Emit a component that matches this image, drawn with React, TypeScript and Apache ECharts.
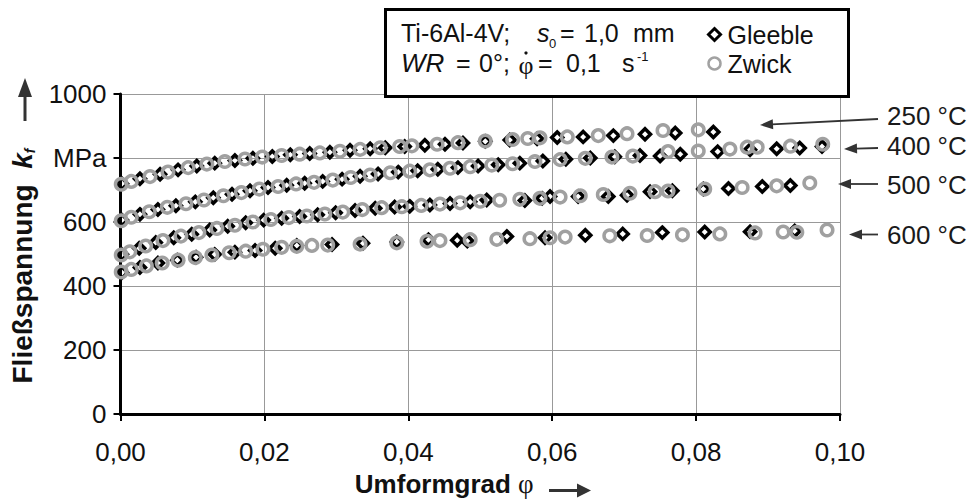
import React, { useEffect, useRef } from 'react';
import * as echarts from 'echarts';

const FONT = '"Liberation Sans", Arial, Helvetica, sans-serif';
const SERIF = '"Liberation Serif", "DejaVu Serif", serif';
const INK = '#111111';

// Umformgrad φ (x) and Fließspannung kf in MPa (y)
const gleeble250: [number, number][] = [
  [0.0002, 720], [0.0027, 735], [0.0055, 749], [0.008, 763], [0.0106, 775], [0.0131, 784], [0.0159, 792],
  [0.0184, 799], [0.0211, 805], [0.0236, 810], [0.0263, 814], [0.0291, 818], [0.0319, 824], [0.0347, 829],
  [0.0368, 832], [0.0395, 836], [0.0423, 840], [0.0451, 843], [0.0476, 847], [0.0507, 852], [0.0541, 856],
  [0.0579, 860], [0.0607, 864], [0.0643, 866], [0.0685, 870], [0.0729, 874], [0.0771, 878], [0.0824, 881],
];
const zwick250: [number, number][] = [
  [0.0001, 718], [0.0015, 727], [0.0041, 742], [0.0066, 756], [0.0094, 770], [0.012, 781], [0.0145, 789],
  [0.0173, 797], [0.0197, 803], [0.0224, 808], [0.0249, 812], [0.0277, 816], [0.0305, 821], [0.0333, 827],
  [0.0361, 832], [0.0388, 836], [0.0405, 838], [0.044, 843], [0.0469, 848], [0.0507, 853], [0.0545, 858],
  [0.0566, 861], [0.0583, 863], [0.0621, 866], [0.0664, 870], [0.0704, 876], [0.0754, 886], [0.0803, 888],
];
const gleeble400: [number, number][] = [
  [0.0002, 606], [0.0027, 624], [0.0052, 639], [0.0077, 651], [0.0104, 663], [0.0129, 676], [0.0155, 687],
  [0.018, 698], [0.0205, 708], [0.0231, 715], [0.0256, 721], [0.0281, 727], [0.0308, 734], [0.0333, 743],
  [0.0358, 750], [0.0386, 756], [0.0413, 760], [0.0441, 765], [0.0469, 770], [0.0497, 775], [0.0525, 779],
  [0.0555, 784], [0.0587, 791], [0.0619, 796], [0.0653, 800], [0.0687, 804], [0.0722, 808], [0.075, 806],
  [0.0778, 812], [0.083, 820], [0.0875, 826], [0.0912, 829], [0.0944, 831], [0.0975, 836],
];
const zwick400: [number, number][] = [
  [0.0001, 604], [0.0015, 615], [0.004, 632], [0.0065, 646], [0.0091, 657], [0.0116, 669], [0.0143, 682],
  [0.0168, 692], [0.0193, 703], [0.0219, 711], [0.0244, 719], [0.0269, 724], [0.0295, 731], [0.032, 739],
  [0.0347, 747], [0.0375, 754], [0.0402, 759], [0.043, 763], [0.0458, 768], [0.0486, 773], [0.0516, 778],
  [0.0545, 782], [0.0576, 789], [0.0611, 795], [0.0646, 799], [0.0683, 803], [0.0712, 806], [0.0761, 820],
  [0.0803, 822], [0.0847, 828], [0.0871, 834], [0.0885, 834], [0.0931, 837], [0.0976, 843],
];
const gleeble500: [number, number][] = [
  [0.0002, 499], [0.0026, 518], [0.0049, 536], [0.0074, 551], [0.0099, 562], [0.0124, 575], [0.0149, 587],
  [0.0174, 598], [0.0199, 606], [0.0224, 612], [0.0249, 617], [0.0274, 623], [0.0299, 629], [0.0326, 636],
  [0.0354, 643], [0.0381, 647], [0.0402, 649], [0.043, 653], [0.0458, 658], [0.0486, 663], [0.0509, 669],
  [0.0562, 667], [0.0586, 674], [0.0597, 680], [0.0636, 680], [0.0678, 680], [0.0704, 684], [0.0736, 695],
  [0.0767, 698], [0.081, 703], [0.0845, 705], [0.0892, 711], [0.0931, 714],
];
const zwick500: [number, number][] = [
  [0.0001, 497], [0.0013, 507], [0.0035, 525], [0.0059, 542], [0.0084, 556], [0.0109, 567], [0.0134, 580],
  [0.0159, 590], [0.0184, 600], [0.0209, 608], [0.0234, 614], [0.0259, 619], [0.0284, 625], [0.0309, 631],
  [0.0336, 639], [0.0363, 645], [0.0391, 648], [0.0418, 652], [0.0444, 656], [0.0472, 660], [0.05, 665],
  [0.0527, 668], [0.0555, 671], [0.0583, 674], [0.0611, 678], [0.0639, 682], [0.0671, 686], [0.0708, 690],
  [0.0743, 695], [0.0761, 697], [0.0812, 703], [0.0864, 708], [0.0912, 713], [0.0958, 722],
];
const gleeble600: [number, number][] = [
  [0.0002, 442], [0.0027, 458], [0.0052, 472], [0.0079, 481], [0.0105, 490], [0.0131, 499], [0.0159, 506],
  [0.0187, 511], [0.0215, 518], [0.0245, 527], [0.0294, 530], [0.0337, 534], [0.0384, 538], [0.0428, 545],
  [0.0468, 543], [0.0482, 541], [0.0537, 555], [0.059, 551], [0.0646, 559], [0.0698, 563], [0.0753, 567],
  [0.0812, 569], [0.0875, 570], [0.0937, 572],
];
const zwick600: [number, number][] = [
  [0.0001, 444], [0.0015, 452], [0.0036, 463], [0.0058, 472], [0.008, 481], [0.0104, 489], [0.0127, 497],
  [0.0151, 504], [0.0174, 509], [0.0198, 515], [0.0224, 521], [0.0245, 524], [0.0266, 527], [0.0288, 528],
  [0.0333, 531], [0.0384, 535], [0.0426, 540], [0.0444, 542], [0.0486, 545], [0.0523, 546], [0.0569, 548],
  [0.0597, 551], [0.0618, 553], [0.068, 557], [0.0732, 558], [0.0781, 560], [0.0833, 563], [0.0882, 566],
  [0.0921, 569], [0.094, 568], [0.0982, 575],
];

const gleebleSets = [gleeble250, gleeble400, gleeble500, gleeble600];
const zwickSets = [zwick250, zwick400, zwick500, zwick600];
const tempLabels = ['250 °C', '400 °C', '500 °C', '600 °C'];

// annotation arrows (pixel layout): tail x/y, tip x/y, label y
const tempArrows = [
  { tail: [878, 119], tip: [760, 125], labelY: 116 },
  { tail: [878, 148], tip: [844, 149], labelY: 146 },
  { tail: [878, 184], tip: [838, 184], labelY: 185 },
  { tail: [878, 234.5], tip: [849, 234.5], labelY: 235 },
];

function arrowEls(tx: number, ty: number, px: number, py: number, len: number, half: number, w: number, color: string) {
  const dx = px - tx;
  const dy = py - ty;
  const d = Math.sqrt(dx * dx + dy * dy);
  const ux = dx / d;
  const uy = dy / d;
  const bx = px - ux * len;
  const by = py - uy * len;
  const nx = -uy * half;
  const ny = ux * half;
  return [
    { type: 'line', z: 10, shape: { x1: tx, y1: ty, x2: bx + ux * 1, y2: by + uy * 1 }, style: { stroke: color, lineWidth: w } },
    { type: 'polygon', z: 10, shape: { points: [[px, py], [bx + nx, by + ny], [bx - nx, by - ny]] }, style: { fill: color } },
  ];
}

function txt(text: string, x: number, y: number, extra: any = {}) {
  return {
    type: 'text',
    z: 10,
    x,
    y,
    style: {
      text,
      fontFamily: FONT,
      fontSize: 25,
      fill: INK,
      align: 'left',
      verticalAlign: 'middle',
      ...extra,
    },
  };
}

export default function App() {
  const ref = useRef<HTMLDivElement>(null);
  useEffect(() => {
    document.body.style.margin = '0';
    const chart = echarts.init(ref.current!, null, { renderer: 'svg' });

    const series: any[] = [];
    gleebleSets.forEach((d) => {
      series.push({
        type: 'scatter',
        name: 'Gleeble',
        data: d,
        symbol: 'diamond',
        symbolSize: 11,
        z: 2,
        itemStyle: { color: 'rgba(0,0,0,0)', borderColor: '#000', borderWidth: 3.5, opacity: 1 },
        emphasis: { disabled: true },
      });
    });
    zwickSets.forEach((d) => {
      series.push({
        type: 'scatter',
        name: 'Zwick',
        data: d,
        symbol: 'circle',
        symbolSize: 11.5,
        z: 3,
        itemStyle: { color: 'rgba(0,0,0,0)', borderColor: '#a0a0a0', borderWidth: 3.5, opacity: 1 },
        emphasis: { disabled: true },
      });
    });

    const graphics: any[] = [
      { type: 'rect', z: 3, shape: { x: 385.5, y: 9.5, width: 463, height: 87 }, style: { fill: '#fff', stroke: '#000', lineWidth: 3 } },
      txt('Ti-6Al-4V;', 401, 33),
      txt('s', 537, 33, { fontStyle: 'italic' }),
      txt('0', 549, 43, { fontSize: 13 }),
      txt('=', 560, 33),
      txt('1,0', 584, 33),
      txt('mm', 633, 33),
      txt('WR', 401, 63, { fontStyle: 'italic', fontSize: 26 }),
      txt('=', 456, 63),
      txt('0°;', 479, 63),
      txt('φ', 526, 65, { fontFamily: SERIF, fontSize: 26, align: 'center' }),
      { type: 'circle', z: 10, shape: { cx: 526, cy: 53, r: 1.6 }, style: { fill: INK } },
      txt('=', 538, 63),
      txt('0,1', 566, 63),
      txt('s', 622, 63),
      txt('-1', 637, 56, { fontSize: 13 }),
      ...arrowEls(25, 121, 25, 78, 19, 7, 3, '#333'),
      ...arrowEls(549, 490.5, 591, 490.5, 14, 7, 3, '#333'),
    ];
    tempArrows.forEach((a, i) => {
      graphics.push(...arrowEls(a.tail[0], a.tail[1], a.tip[0], a.tip[1], 13, 5, 1.8, '#333'));
      graphics.push(txt(tempLabels[i], 887, a.labelY, { fontSize: 26, fill: '#1a1a1a' }));
    });

    chart.setOption({
      animation: false,
      textStyle: { fontFamily: FONT },
      grid: { left: 120.5, right: 133, top: 94, bottom: 83, containLabel: false },
      legend: {
        orient: 'vertical',
        left: 707,
        top: 22,
        padding: 0,
        itemWidth: 12,
        itemHeight: 12,
        itemGap: 4,
        selectedMode: false,
        z: 5,
        textStyle: { fontFamily: FONT, fontSize: 25, color: INK, lineHeight: 25, padding: [0, 0, 0, 2] },
        data: [
          { name: 'Gleeble', icon: 'diamond', itemStyle: { color: 'rgba(0,0,0,0)', borderColor: '#000', borderWidth: 3 } },
          { name: 'Zwick', icon: 'circle', itemStyle: { color: 'rgba(0,0,0,0)', borderColor: '#a2a2a2', borderWidth: 2.5 } },
        ],
      },
      xAxis: {
        type: 'value',
        min: 0,
        max: 0.1,
        interval: 0.02,
        name: '{b|Umformgrad} {p|φ}',
        nameLocation: 'middle',
        nameGap: 54,
        nameTextStyle: {
          fontFamily: FONT,
          fontSize: 26,
          fontWeight: 'bold',
          color: INK,
          padding: [0, 72, 0, 0],
          rich: {
            b: { fontFamily: FONT, fontSize: 26, fontWeight: 'bold', color: INK },
            p: { fontFamily: SERIF, fontSize: 27, fontWeight: 'normal', color: INK },
          },
        },
        axisLine: { lineStyle: { color: '#000', width: 3 } },
        axisTick: { show: true, length: 7, lineStyle: { color: '#000', width: 2 } },
        splitLine: { show: true, lineStyle: { color: '#999', width: 1 } },
        axisLabel: {
          fontFamily: FONT,
          fontSize: 26,
          color: INK,
          margin: 25,
          formatter: (v: number) => v.toFixed(2).replace('.', ','),
        },
      },
      yAxis: {
        type: 'value',
        min: 0,
        max: 1000,
        interval: 200,
        name: '{b|Fließspannung}  {k|k}{f|f}',
        nameLocation: 'middle',
        nameRotate: 90,
        nameGap: 84,
        nameTextStyle: {
          fontFamily: FONT,
          fontSize: 28,
          fontWeight: 'bold',
          color: INK,
          padding: [0, 24, 0, 0],
          rich: {
            b: { fontFamily: FONT, fontSize: 28, fontWeight: 'bold', color: INK },
            k: { fontFamily: FONT, fontSize: 28, fontWeight: 'bold', fontStyle: 'italic', color: INK },
            f: { fontFamily: FONT, fontSize: 14, fontWeight: 'bold', fontStyle: 'italic', color: INK, verticalAlign: 'bottom', lineHeight: 14 },
          },
        },
        axisLine: { show: true, lineStyle: { color: '#000', width: 3 } },
        axisTick: { show: true, length: 7, lineStyle: { color: '#000', width: 2 } },
        splitLine: { show: true, lineStyle: { color: '#999', width: 1 } },
        axisLabel: {
          fontFamily: FONT,
          fontSize: 26,
          color: INK,
          margin: 14,
          formatter: (v: number) => (v === 800 ? 'MPa' : String(v)),
        },
      },
      graphic: { elements: graphics },
      series,
    });
    return () => chart.dispose();
  }, []);
  return <div ref={ref} style={{ position: 'absolute', left: 0, top: 0, width: 973, height: 502 }} />;
}
